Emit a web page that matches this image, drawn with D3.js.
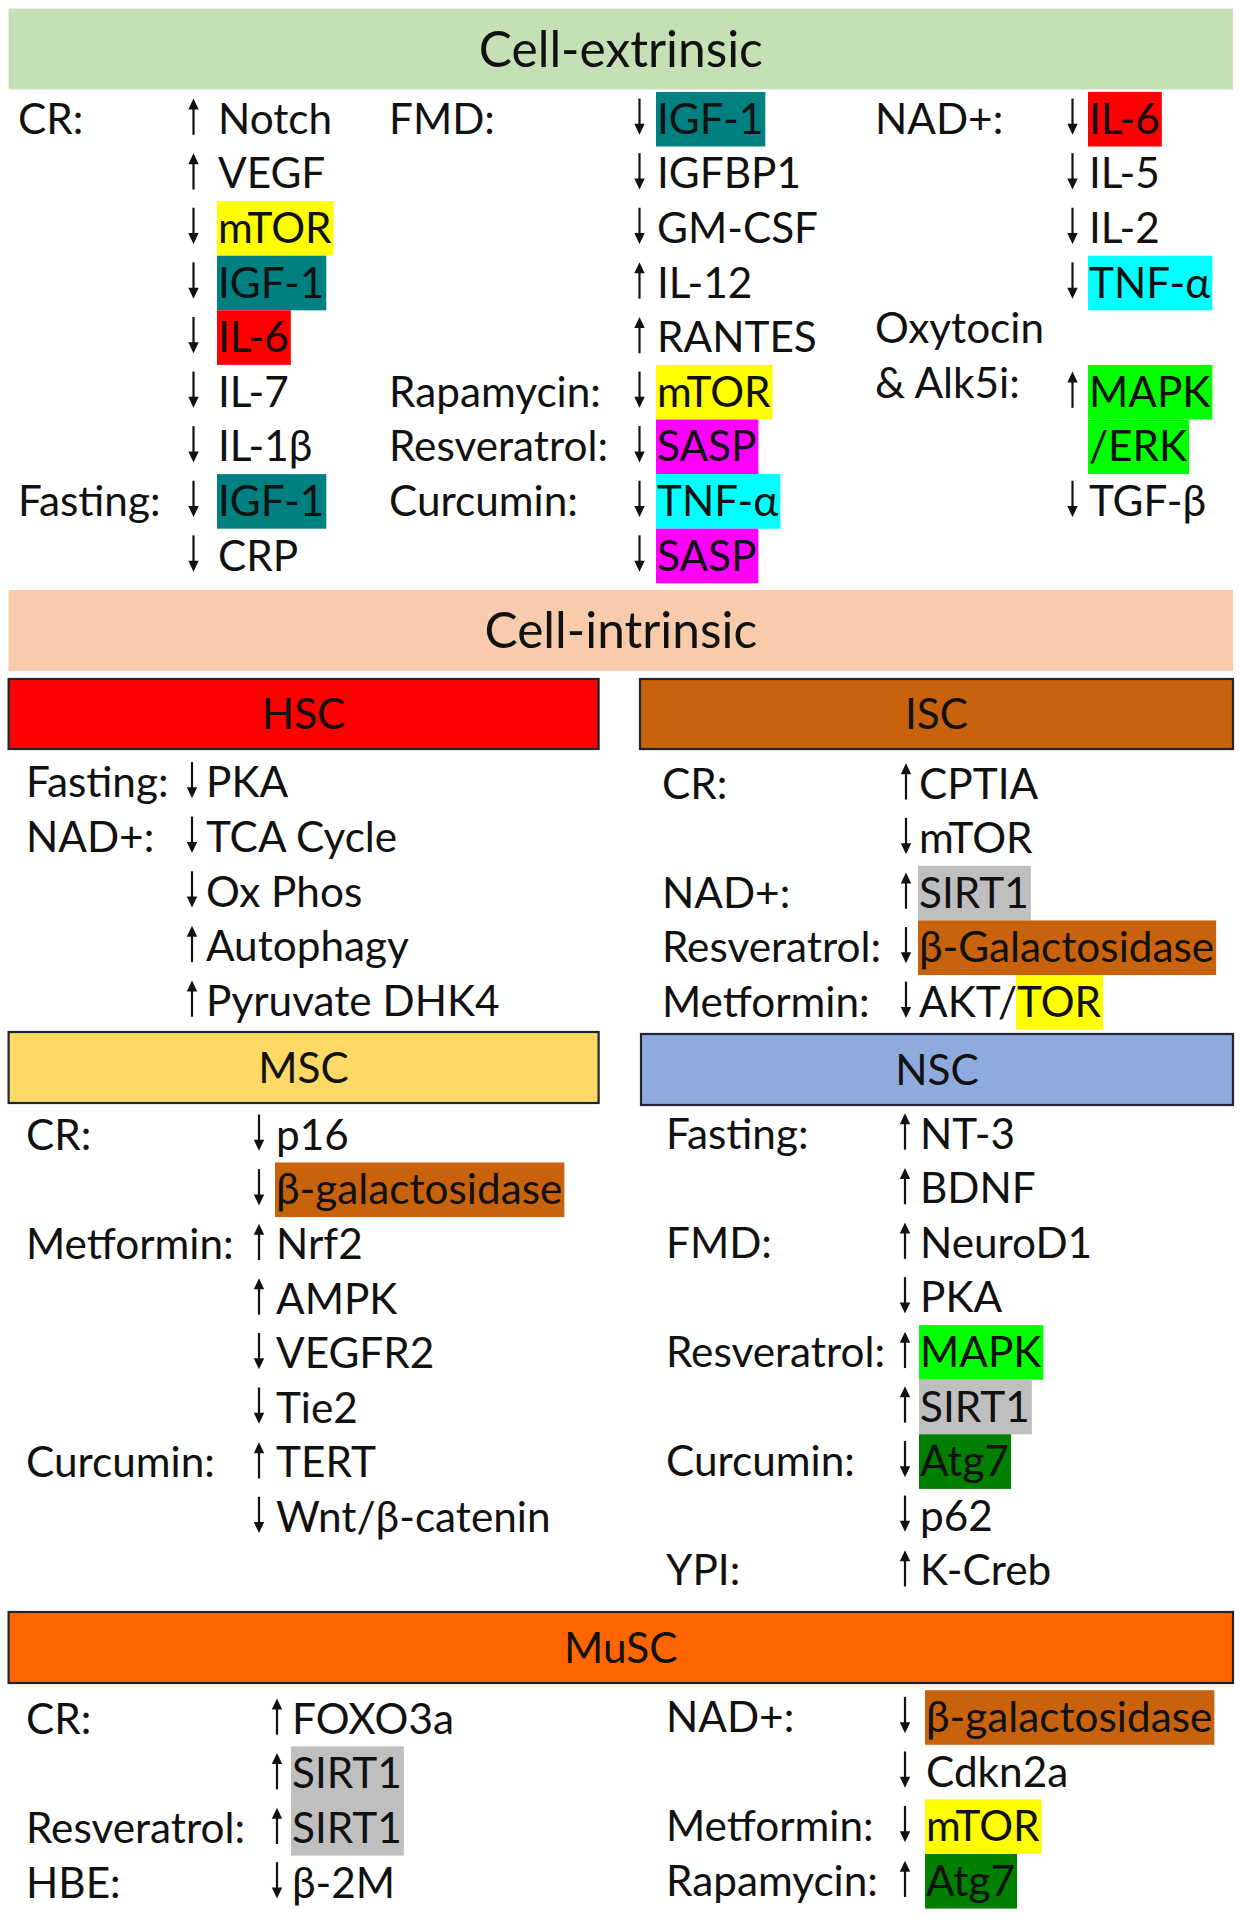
<!DOCTYPE html>
<html><head><meta charset="utf-8">
<script src="https://cdn.jsdelivr.net/npm/d3@7"></script>
<style>body{margin:0;background:#fff} svg{display:block}</style>
</head><body>
<script>
// ---------- data ----------
const hlColors = {teal:"#008080", red:"#FF0000", yellow:"#FFFF00", cyan:"#00FFFF", magenta:"#FF00FF",
  green:"#00FF00", gray:"#BFBFBF", brown:"#C8620C", dkgreen:"#007F00"};

const sectionTitles = ["Cell-extrinsic", "Cell-intrinsic"];
const cellTypes = ["HSC", "ISC", "MSC", "NSC", "MuSC"];
const cellColors = ["#FF0000", "#C8620C", "#FFD966", "#8FAADC", "#FF6600"];

// rows: [treatment label, direction, marker (string or [text, highlight] segments), highlight]
const extCR = [
  ["CR:", "up", "Notch"], ["", "up", "VEGF"], ["", "down", "mTOR", "yellow"], ["", "down", "IGF-1", "teal"],
  ["", "down", "IL-6", "red"], ["", "down", "IL-7"], ["", "down", "IL-1β"], ["Fasting:", "down", "IGF-1", "teal"],
  ["", "down", "CRP"]
];
const extFMD = [
  ["FMD:", "down", "IGF-1", "teal"], ["", "down", "IGFBP1"], ["", "down", "GM-CSF"], ["", "up", "IL-12"],
  ["", "up", "RANTES"], ["Rapamycin:", "down", "mTOR", "yellow"], ["Resveratrol:", "down", "SASP", "magenta"],
  ["Curcumin:", "down", "TNF-α", "cyan"], ["", "down", "SASP", "magenta"]
];
const extNAD = [
  ["NAD+:", "down", "IL-6", "red"], ["", "down", "IL-5"], ["", "down", "IL-2"], ["", "down", "TNF-α", "cyan"],
  ["", null, ""], ["", "up", "MAPK", "green"], ["", null, "/ERK", "green"], ["", "down", "TGF-β"]
];
const extNADLabels = [["Oxytocin", 3.83], ["& Alk5i:", 4.83]];

const hscRows = [
  ["Fasting:", "down", "PKA"], ["NAD+:", "down", "TCA Cycle"], ["", "down", "Ox Phos"],
  ["", "up", "Autophagy"], ["", "up", "Pyruvate DHK4"]
];
const iscRows = [
  ["CR:", "up", "CPTIA"], ["", "down", "mTOR"], ["NAD+:", "up", "SIRT1", "gray"],
  ["Resveratrol:", "down", "β-Galactosidase", "brown"], ["Metformin:", "down", [["AKT/", null], ["TOR", "yellow"]]]
];
const mscRows = [
  ["CR:", "down", "p16"], ["", "down", "β-galactosidase", "brown"], ["Metformin:", "up", "Nrf2"],
  ["", "up", "AMPK"], ["", "down", "VEGFR2"], ["", "down", "Tie2"], ["Curcumin:", "up", "TERT"],
  ["", "down", "Wnt/β-catenin"]
];
const nscRows = [
  ["Fasting:", "up", "NT-3"], ["", "up", "BDNF"], ["FMD:", "up", "NeuroD1"], ["", "down", "PKA"],
  ["Resveratrol:", "up", "MAPK", "green"], ["", "up", "SIRT1", "gray"], ["Curcumin:", "down", "Atg7", "dkgreen"],
  ["", "down", "p62"], ["YPI:", "up", "K-Creb"]
];
const muscLeftRows = [
  ["CR:", "up", "FOXO3a"], ["", "up", "SIRT1", "gray"], ["Resveratrol:", "up", "SIRT1", "gray"], ["HBE:", "down", "β-2M"]
];
const muscRightRows = [
  ["NAD+:", "down", "β-galactosidase", "brown"], ["", "down", "Cdkn2a"], ["Metformin:", "down", "mTOR", "yellow"],
  ["Rapamycin:", "up", "Atg7", "dkgreen"]
];

// ---------- layout ----------
const W = 1240, H = 1920;
const FONT = "Lato, 'Open Sans', sans-serif";
const svg = d3.select("body").append("svg").attr("width", W).attr("height", H)
  .style("font-family", FONT);

function measure(str, size) {
  const t = svg.append("text").attr("font-size", size).text(str);
  const w = t.node().getComputedTextLength(); t.remove(); return w;
}
const FS = 100 * 212 / measure("Rapamycin:", 100);
const TFS = 100 * 284 / measure("Cell-extrinsic", 100);
const CAP = 0.7165 * FS;
const SP = 54.6;

// section title bands
const bands = [
  {title: sectionTitles[0], y0: 8.6, y1: 89.4, fill: "#C5E0B4"},
  {title: sectionTitles[1], y0: 590, y1: 671, fill: "#F8CBAD"}
];
const xFull = d3.scaleLinear().domain([0, 1]).range([8.6, 1233]);
bands.forEach(b => {
  svg.append("rect").attr("x", xFull(0)).attr("y", b.y0).attr("width", xFull(1) - xFull(0))
    .attr("height", b.y1 - b.y0).attr("fill", b.fill);
  svg.append("text").attr("x", (xFull(0) + xFull(1)) / 2).attr("y", (b.y0 + b.y1) / 2 + 0.7165 * TFS / 2)
    .attr("text-anchor", "middle").attr("font-size", TFS).attr("fill", "#111").text(b.title);
});

// cell type boxes
const boxes = [
  {x0: 8.6, x1: 598.6, y0: 679, y1: 749},
  {x0: 640, x1: 1233, y0: 679, y1: 749},
  {x0: 8.6, x1: 598.6, y0: 1032, y1: 1103},
  {x0: 641, x1: 1233, y0: 1034, y1: 1105},
  {x0: 8.6, x1: 1233, y0: 1612, y1: 1683}
];
cellTypes.forEach((c, i) => {
  const b = boxes[i];
  svg.append("rect").attr("x", b.x0).attr("y", b.y0).attr("width", b.x1 - b.x0).attr("height", b.y1 - b.y0)
    .attr("fill", cellColors[i]).attr("stroke", "#1e2530").attr("stroke-width", 2.2);
  svg.append("text").attr("x", (b.x0 + b.x1) / 2).attr("y", (b.y0 + b.y1) / 2 + CAP / 2)
    .attr("text-anchor", "middle").attr("font-size", FS).attr("fill", "#111").text(c);
});

function arrow(g, x, yc, dir) {
  const top = yc - CAP / 2 - 5, bot = yc + CAP / 2 + 1;
  const hw = 5.2, hh = 11;
  if (dir === "up") {
    g.append("line").attr("x1", x).attr("x2", x).attr("y1", top + 6).attr("y2", bot)
      .attr("stroke", "#111").attr("stroke-width", 2.2);
    g.append("path").attr("d", `M${x},${top}L${x - hw},${top + hh}L${x + hw},${top + hh}Z`).attr("fill", "#111");
  } else {
    g.append("line").attr("x1", x).attr("x2", x).attr("y1", top).attr("y2", bot - 6)
      .attr("stroke", "#111").attr("stroke-width", 2.2);
    g.append("path").attr("d", `M${x},${bot}L${x - hw},${bot - hh}L${x + hw},${bot - hh}Z`).attr("fill", "#111");
  }
}

function panel(rows, cfg, extraLabels) {
  const y = d3.scaleLinear().domain([0, 1]).range([cfg.y0, cfg.y0 + SP]);
  const g = svg.append("g");
  rows.forEach((r, i) => {
    const [label, dir, marker, hl] = r;
    const yc = y(i), base = yc + CAP / 2;
    if (label) g.append("text").attr("x", cfg.lx).attr("y", base).attr("font-size", FS).attr("fill", "#111").text(label);
    if (dir) arrow(g, cfg.ax, yc, dir);
    const segs = Array.isArray(marker) ? marker : [[marker, hl || null]];
    let x = cfg.tx;
    segs.forEach(([txt, h]) => {
      if (!txt) return;
      const sg = g.append("g");
      const rect = h ? sg.append("rect") : null;
      const t = sg.append("text").attr("x", x).attr("y", base).attr("font-size", FS).attr("fill", "#111").text(txt);
      const w = t.node().getComputedTextLength();
      if (rect) rect.attr("x", x - 1).attr("y", yc - SP / 2 + 0.5).attr("width", w + 3).attr("height", SP)
        .attr("fill", hlColors[h]);
      x += w;
    });
  });
  (extraLabels || []).forEach(([txt, pos]) => {
    g.append("text").attr("x", cfg.lx).attr("y", y(pos) + CAP / 2).attr("font-size", FS).attr("fill", "#111").text(txt);
  });
}

panel(extCR, {y0: 118.7, lx: 18, ax: 193.5, tx: 218});
panel(extFMD, {y0: 118.7, lx: 389, ax: 639.5, tx: 657});
panel(extNAD, {y0: 118.7, lx: 875, ax: 1072.5, tx: 1089}, extNADLabels);
panel(hscRows, {y0: 782.2, lx: 26, ax: 192, tx: 206});
panel(iscRows, {y0: 783.4, lx: 662, ax: 906, tx: 919});
panel(mscRows, {y0: 1134.7, lx: 26, ax: 259, tx: 276});
panel(nscRows, {y0: 1133.5, lx: 666, ax: 905, tx: 920});
panel(muscLeftRows, {y0: 1718.6, lx: 26, ax: 277, tx: 292});
panel(muscRightRows, {y0: 1717, lx: 666, ax: 905, tx: 926});
</script>
</body></html>
